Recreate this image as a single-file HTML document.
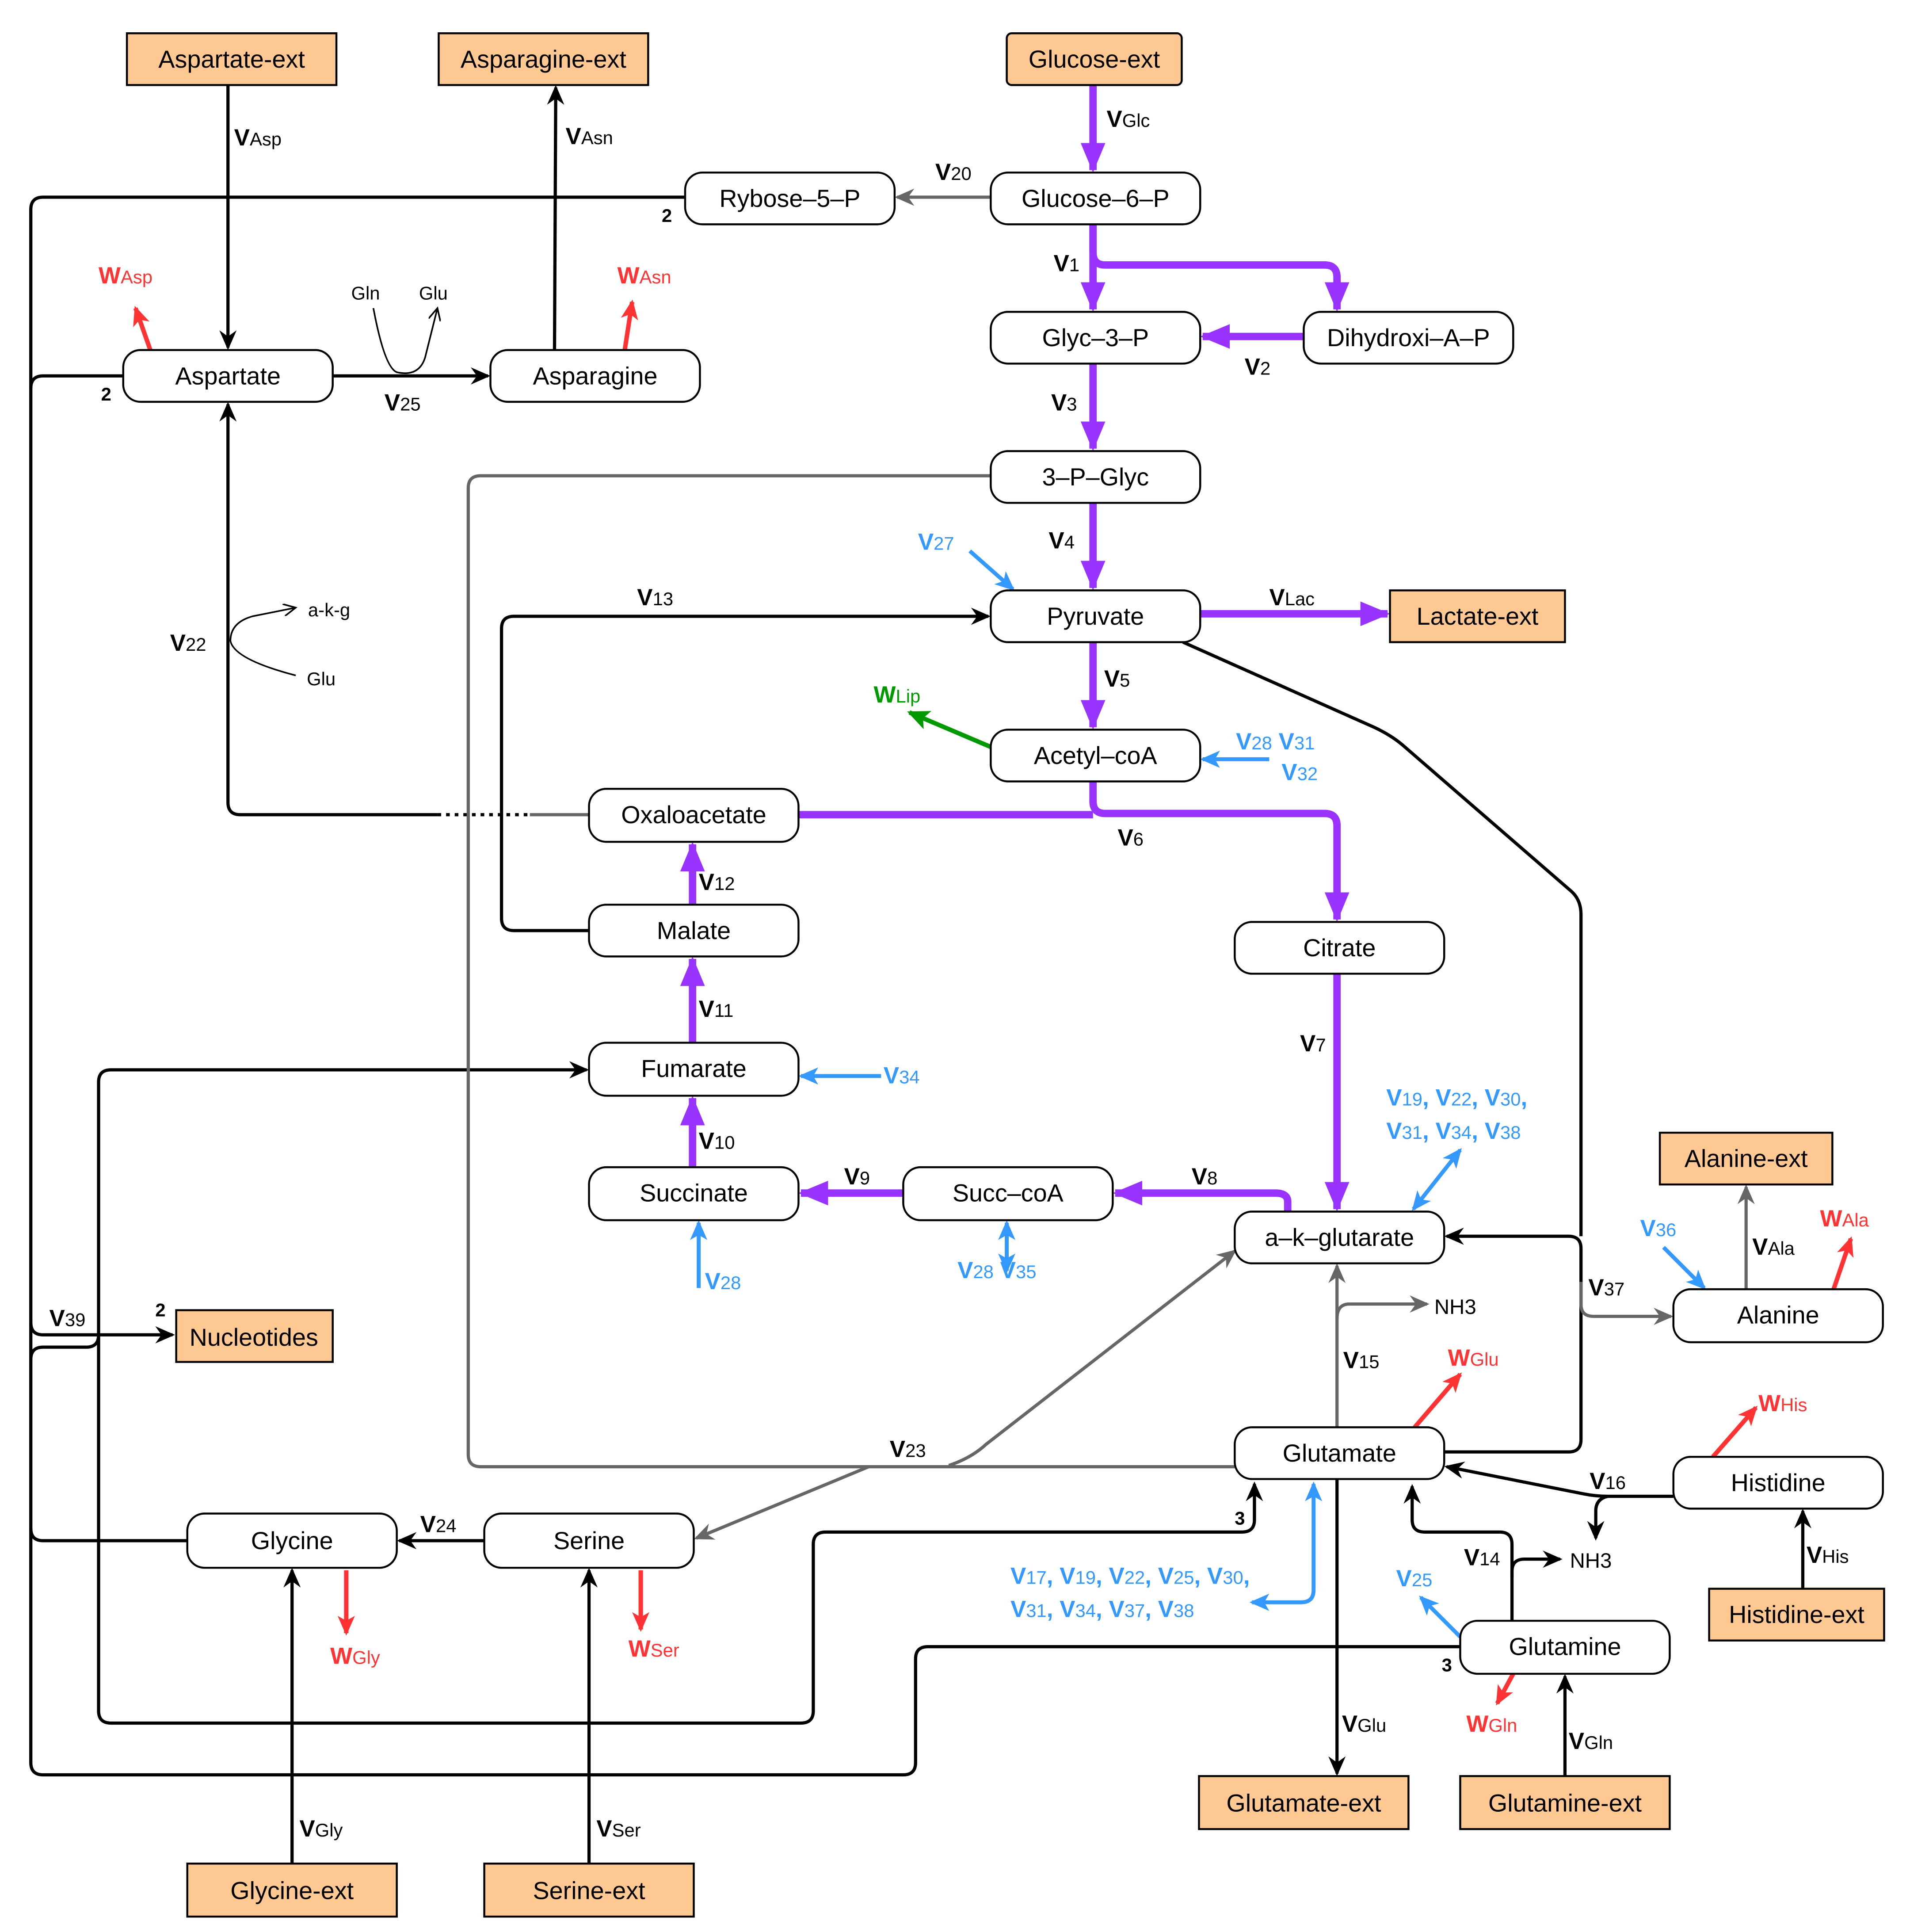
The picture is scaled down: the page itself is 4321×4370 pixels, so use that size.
<!DOCTYPE html>
<html><head><meta charset="utf-8"><style>
html,body{margin:0;padding:0;background:#fff}
svg{display:block}
text{font-family:"Liberation Sans",sans-serif}
.n{font-size:20px;text-anchor:middle;dominant-baseline:central}
.v{font-size:19px;font-weight:bold}
.s{font-size:15px;font-weight:normal}
.sm{font-size:15px}
</style></head><body>
<svg width="4321" height="4370" viewBox="0 0 1550 1567.5" preserveAspectRatio="none" xmlns="http://www.w3.org/2000/svg">
<defs>
<marker id="ak" markerUnits="userSpaceOnUse" markerWidth="18" markerHeight="16" refX="14" refY="8" orient="auto-start-reverse"><path d="M0,1 L16,8 L0,15 L5,8z" fill="#000"/></marker>
<marker id="ag" markerUnits="userSpaceOnUse" markerWidth="18" markerHeight="16" refX="14" refY="8" orient="auto-start-reverse"><path d="M0,1 L16,8 L0,15 L5,8z" fill="#666"/></marker>
<marker id="ap" markerUnits="userSpaceOnUse" markerWidth="26" markerHeight="24" refX="22" refY="12" orient="auto-start-reverse"><path d="M0,2 L24,12 L0,22z" fill="#9933ff"/></marker>
<marker id="ab" markerUnits="userSpaceOnUse" markerWidth="18" markerHeight="16" refX="14" refY="8" orient="auto-start-reverse"><path d="M0,1 L16,8 L0,15 L4,8z" fill="#3399ff"/></marker>
<marker id="ar" markerUnits="userSpaceOnUse" markerWidth="18" markerHeight="16" refX="14" refY="8" orient="auto-start-reverse"><path d="M0,1 L16,8 L0,15 L4,8z" fill="#ff3333"/></marker>
<marker id="agr" markerUnits="userSpaceOnUse" markerWidth="20" markerHeight="18" refX="16" refY="9" orient="auto-start-reverse"><path d="M0,1 L18,9 L0,17 L4,9z" fill="#009900"/></marker>
<marker id="as" markerUnits="userSpaceOnUse" markerWidth="12" markerHeight="10" refX="10" refY="5" orient="auto"><path d="M0,0 L10,5 L0,10" fill="none" stroke="#000" stroke-width="1.3"/></marker>
</defs>

<g fill="none" stroke-linejoin="round">
<g stroke="#000" stroke-width="2.6">
<path d="M556 160 H35 Q25 160 25 170 V1430 Q25 1440 35 1440 H733 Q743 1440 743 1430 V1346 Q743 1336 753 1336 H1185"/>
<path d="M100 305 H35 Q25 305 25 315"/>
<path d="M152 1250 H35 Q25 1250 25 1240"/>
<path d="M25 1073 Q25 1083 35 1083 H140" marker-end="url(#ak)"/>
<path d="M80 1083 Q80 1093 70 1093 H35 Q25 1093 25 1103"/>
<path d="M476 868 H90 Q80 868 80 878 V1388 Q80 1398 90 1398 H650 Q660 1398 660 1388 V1253 Q660 1243 670 1243 H1008 Q1018 1243 1018 1233 V1204" marker-start="url(#ak)" marker-end="url(#ak)"/>
<path d="M478 755 H417 Q407 755 407 745 V510 Q407 500 417 500 H802" marker-end="url(#ak)"/>
<path d="M355 661 H195 Q185 661 185 651 V328" marker-end="url(#ak)"/>
<path d="M355 661 H430" stroke-dasharray="3 4"/>
<path d="M185 69 V282" marker-end="url(#ak)"/>
<path d="M450 284 L451 71" marker-end="url(#ak)"/>
<path d="M270 305 H396" marker-end="url(#ak)"/>
<path d="M393 1250 H324" marker-end="url(#ak)"/>
<path d="M237 1512 V1274" marker-end="url(#ak)"/>
<path d="M478 1512 V1274" marker-end="url(#ak)"/>
<path d="M1085 1200 V1439" marker-end="url(#ak)"/>
<path d="M1270 1441 V1360" marker-end="url(#ak)"/>
<path d="M1463 1289 V1226" marker-end="url(#ak)"/>
<path d="M1358 1214 H1305 Q1295 1214 1285 1212 L1174 1190" marker-end="url(#ak)"/>
<path d="M1305 1214 Q1295 1216 1295 1226 V1248" marker-end="url(#ak)"/>
<path d="M1227 1315 V1253 Q1227 1243 1217 1243 H1156 Q1146 1243 1146 1233 V1206" marker-end="url(#ak)"/>
<path d="M1227 1280 V1275 Q1227 1265 1237 1265 H1266" marker-end="url(#ak)"/>
<path d="M1172 1178 H1273 Q1283 1178 1283 1168 V1013 Q1283 1003 1273 1003 H1174" marker-end="url(#ak)"/>
<path d="M960 521 L1115 590 Q1130 597 1140 606 L1275 723 Q1283 730 1283 742 V1003"/>
</g>
<g stroke="#000" stroke-width="1.3">
<path d="M303 250 Q312 298 322 302 Q340 306 345 290 L355 250" marker-end="url(#as)"/>
<path d="M240 548 Q190 535 187 520 Q187 505 205 500 L240 493" marker-end="url(#as)"/>
</g>
<g stroke="#666" stroke-width="2.6">
<path d="M804 160 H728" marker-end="url(#ag)"/>
<path d="M1002 1190 H390 Q380 1190 380 1180 V396 Q380 386 390 386 H804"/>
<path d="M478 661 H430"/>
<path d="M705 1190 L565 1248" marker-end="url(#ag)"/>
<path d="M770 1189 Q788 1183 800 1172 L1002 1015" marker-end="url(#ag)"/>
<path d="M1085 1158 V1027" marker-end="url(#ag)"/>
<path d="M1085 1070 Q1085 1058 1095 1058 H1158" marker-end="url(#ag)"/>
<path d="M1283 1040 V1058 Q1283 1068 1293 1068 H1356" marker-end="url(#ag)"/>
<path d="M1417 1046 V963" marker-end="url(#ag)"/>
</g>
<g stroke="#9933ff" stroke-width="6">
<path d="M887 69 V138" marker-end="url(#ap)"/>
<path d="M887 182 V251" marker-end="url(#ap)"/>
<path d="M887 182 V205 Q887 215 897 215 H1075 Q1085 215 1085 225 V251" marker-end="url(#ap)"/>
<path d="M1058 273 H976" marker-end="url(#ap)"/>
<path d="M887 295 V364" marker-end="url(#ap)"/>
<path d="M887 408 V477" marker-end="url(#ap)"/>
<path d="M974 498 H1126" marker-end="url(#ap)"/>
<path d="M887 521 V590" marker-end="url(#ap)"/>
<path d="M887 634 V650 Q887 660 897 660 H1075 Q1085 660 1085 670 V746" marker-end="url(#ap)"/>
<path d="M648 661 H887"/>
<path d="M1085 790 V981" marker-end="url(#ap)"/>
<path d="M1045 983 V975 Q1045 968 1035 968 H905" marker-end="url(#ap)"/>
<path d="M733 968 H650" marker-end="url(#ap)"/>
<path d="M562 947 V891" marker-end="url(#ap)"/>
<path d="M562 846 V778" marker-end="url(#ap)"/>
<path d="M562 734 V685" marker-end="url(#ap)"/>
</g>
<g stroke="#3399ff" stroke-width="3.2">
<path d="M787 447 L822 478" marker-end="url(#ab)"/>
<path d="M1030 616 H976" marker-end="url(#ab)"/>
<path d="M715 873 H650" marker-end="url(#ab)"/>
<path d="M567 1045 V992" marker-end="url(#ab)"/>
<path d="M817 1031 V992" marker-start="url(#ab)" marker-end="url(#ab)"/>
<path d="M1147 981 L1185 933" marker-start="url(#ab)" marker-end="url(#ab)"/>
<path d="M1350 1012 L1383 1045" marker-end="url(#ab)"/>
<path d="M1066 1204 V1290 Q1066 1300 1056 1300 H1016" marker-start="url(#ab)" marker-end="url(#ab)"/>
<path d="M1185 1328 L1153 1296" marker-end="url(#ab)"/>
</g>
<g stroke="#ff3333" stroke-width="3.6">
<path d="M122 284 L110 250" marker-end="url(#ar)"/>
<path d="M507 284 L513 245" marker-end="url(#ar)"/>
<path d="M1488 1046 L1502 1005" marker-end="url(#ar)"/>
<path d="M1148 1158 L1185 1115" marker-end="url(#ar)"/>
<path d="M1390 1182 L1425 1142" marker-end="url(#ar)"/>
<path d="M281 1274 V1325" marker-end="url(#ar)"/>
<path d="M520 1274 V1322" marker-end="url(#ar)"/>
<path d="M1228 1358 L1215 1382" marker-end="url(#ar)"/>
</g>
<path d="M804 606 L738 578" stroke="#009900" stroke-width="3.6" marker-end="url(#agr)"/>
</g>

<g fill="#fff" stroke="#000" stroke-width="1.6">
<rect x="556" y="140" width="170" height="42" rx="14"/>
<rect x="804" y="140" width="170" height="42" rx="14"/>
<rect x="804" y="253" width="170" height="42" rx="14"/>
<rect x="1058" y="253" width="170" height="42" rx="14"/>
<rect x="804" y="366" width="170" height="42" rx="14"/>
<rect x="804" y="479" width="170" height="42" rx="14"/>
<rect x="804" y="592" width="170" height="42" rx="14"/>
<rect x="478" y="640" width="170" height="43" rx="14"/>
<rect x="478" y="734" width="170" height="42" rx="14"/>
<rect x="1002" y="748" width="170" height="42" rx="14"/>
<rect x="478" y="846" width="170" height="43" rx="14"/>
<rect x="478" y="947" width="170" height="43" rx="14"/>
<rect x="733" y="947" width="170" height="43" rx="14"/>
<rect x="1002" y="983" width="170" height="42" rx="14"/>
<rect x="100" y="284" width="170" height="42" rx="14"/>
<rect x="398" y="284" width="170" height="42" rx="14"/>
<rect x="1358" y="1046" width="170" height="43" rx="14"/>
<rect x="1002" y="1158" width="170" height="42" rx="14"/>
<rect x="1358" y="1182" width="170" height="42" rx="14"/>
<rect x="152" y="1228" width="170" height="44" rx="14"/>
<rect x="393" y="1228" width="170" height="44" rx="14"/>
<rect x="1185" y="1315" width="170" height="43" rx="14"/>
</g>
<g fill="#fdc891" stroke="#000" stroke-width="1.6">
<rect x="103" y="27" width="170" height="42"/>
<rect x="356" y="27" width="170" height="42"/>
<rect x="817" y="27" width="142" height="42" rx="4"/>
<rect x="1128" y="479" width="142" height="42"/>
<rect x="1347" y="919" width="140" height="42"/>
<rect x="143" y="1063" width="127" height="42"/>
<rect x="1387" y="1289" width="142" height="42"/>
<rect x="973" y="1441" width="170" height="43"/>
<rect x="1185" y="1441" width="170" height="43"/>
<rect x="152" y="1512" width="170" height="43"/>
<rect x="393" y="1512" width="170" height="43"/>
</g>
<g class="n" fill="#000">
<text class="n" x="641" y="161">Rybose–5–P</text>
<text class="n" x="889" y="161">Glucose–6–P</text>
<text class="n" x="889" y="274">Glyc–3–P</text>
<text class="n" x="1143" y="274">Dihydroxi–A–P</text>
<text class="n" x="889" y="387">3–P–Glyc</text>
<text class="n" x="889" y="500">Pyruvate</text>
<text class="n" x="889" y="613">Acetyl–coA</text>
<text class="n" x="563" y="661">Oxaloacetate</text>
<text class="n" x="563" y="755">Malate</text>
<text class="n" x="1087" y="769">Citrate</text>
<text class="n" x="563" y="867">Fumarate</text>
<text class="n" x="563" y="968">Succinate</text>
<text class="n" x="818" y="968">Succ–coA</text>
<text class="n" x="1087" y="1004">a–k–glutarate</text>
<text class="n" x="185" y="305">Aspartate</text>
<text class="n" x="483" y="305">Asparagine</text>
<text class="n" x="1443" y="1067">Alanine</text>
<text class="n" x="1087" y="1179">Glutamate</text>
<text class="n" x="1443" y="1203">Histidine</text>
<text class="n" x="237" y="1250">Glycine</text>
<text class="n" x="478" y="1250">Serine</text>
<text class="n" x="1270" y="1336">Glutamine</text>
<text class="n" x="188" y="48">Aspartate-ext</text>
<text class="n" x="441" y="48">Asparagine-ext</text>
<text class="n" x="888" y="48">Glucose-ext</text>
<text class="n" x="1199" y="500">Lactate-ext</text>
<text class="n" x="1417" y="940">Alanine-ext</text>
<text class="n" x="206" y="1085">Nucleotides</text>
<text class="n" x="1458" y="1310">Histidine-ext</text>
<text class="n" x="1058" y="1463">Glutamate-ext</text>
<text class="n" x="1270" y="1463">Glutamine-ext</text>
<text class="n" x="237" y="1534">Glycine-ext</text>
<text class="n" x="478" y="1534">Serine-ext</text>
</g>

<g class="v" fill="#000">
<text x="190" y="118">V<tspan class="s">Asp</tspan></text>
<text x="459" y="117">V<tspan class="s">Asn</tspan></text>
<text x="898" y="103">V<tspan class="s">Glc</tspan></text>
<text x="759" y="146">V<tspan class="s">20</tspan></text>
<text x="855" y="220">V<tspan class="s">1</tspan></text>
<text x="1010" y="304">V<tspan class="s">2</tspan></text>
<text x="853" y="333">V<tspan class="s">3</tspan></text>
<text x="851" y="445">V<tspan class="s">4</tspan></text>
<text x="896" y="557">V<tspan class="s">5</tspan></text>
<text x="907" y="686">V<tspan class="s">6</tspan></text>
<text x="1055" y="853">V<tspan class="s">7</tspan></text>
<text x="967" y="961">V<tspan class="s">8</tspan></text>
<text x="685" y="961">V<tspan class="s">9</tspan></text>
<text x="567" y="932">V<tspan class="s">10</tspan></text>
<text x="567" y="825">V<tspan class="s">11</tspan></text>
<text x="567" y="722">V<tspan class="s">12</tspan></text>
<text x="517" y="491">V<tspan class="s">13</tspan></text>
<text x="1030" y="491">V<tspan class="s">Lac</tspan></text>
<text x="138" y="528">V<tspan class="s">22</tspan></text>
<text x="312" y="333">V<tspan class="s">25</tspan></text>
<text x="1090" y="1110">V<tspan class="s">15</tspan></text>
<text x="722" y="1182">V<tspan class="s">23</tspan></text>
<text x="341" y="1243">V<tspan class="s">24</tspan></text>
<text x="1290" y="1208">V<tspan class="s">16</tspan></text>
<text x="1188" y="1270">V<tspan class="s">14</tspan></text>
<text x="1289" y="1051">V<tspan class="s">37</tspan></text>
<text x="1422" y="1018">V<tspan class="s">Ala</tspan></text>
<text x="1466" y="1268">V<tspan class="s">His</tspan></text>
<text x="1089" y="1405">V<tspan class="s">Glu</tspan></text>
<text x="1273" y="1419">V<tspan class="s">Gln</tspan></text>
<text x="243" y="1490">V<tspan class="s">Gly</tspan></text>
<text x="484" y="1490">V<tspan class="s">Ser</tspan></text>
<text x="40" y="1076">V<tspan class="s">39</tspan></text>
<text x="537" y="180" class="sm" style="font-weight:bold">2</text>
<text x="82" y="325" class="sm" style="font-weight:bold">2</text>
<text x="126" y="1068" class="sm" style="font-weight:bold">2</text>
<text x="1002" y="1237" class="sm" style="font-weight:bold">3</text>
<text x="1170" y="1356" class="sm" style="font-weight:bold">3</text>
</g>
<g fill="#000" class="sm">
<text x="285" y="243">Gln</text>
<text x="340" y="243">Glu</text>
<text x="250" y="500">a-k-g</text>
<text x="249" y="556">Glu</text>
</g>
<g fill="#000" style="font-size:17px">
<text x="1164" y="1066">NH3</text>
<text x="1274" y="1272">NH3</text>
</g>
<g class="v" fill="#3399ff">
<text x="745" y="446">V<tspan class="s">27</tspan></text>
<text x="1003" y="608">V<tspan class="s">28</tspan> V<tspan class="s">31</tspan></text>
<text x="1040" y="633">V<tspan class="s">32</tspan></text>
<text x="717" y="879">V<tspan class="s">34</tspan></text>
<text x="572" y="1046">V<tspan class="s">28</tspan></text>
<text x="777" y="1037">V<tspan class="s">28</tspan> V<tspan class="s">35</tspan></text>
<text x="1125" y="897">V<tspan class="s">19</tspan>, V<tspan class="s">22</tspan>, V<tspan class="s">30</tspan>,</text>
<text x="1125" y="924">V<tspan class="s">31</tspan>, V<tspan class="s">34</tspan>,  V<tspan class="s">38</tspan></text>
<text x="1331" y="1003">V<tspan class="s">36</tspan></text>
<text x="1133" y="1287">V<tspan class="s">25</tspan></text>
<text x="820" y="1285">V<tspan class="s">17</tspan>, V<tspan class="s">19</tspan>, V<tspan class="s">22</tspan>, V<tspan class="s">25</tspan>, V<tspan class="s">30</tspan>,</text>
<text x="820" y="1312">V<tspan class="s">31</tspan>, V<tspan class="s">34</tspan>, V<tspan class="s">37</tspan>, V<tspan class="s">38</tspan></text>
</g>
<g class="v" fill="#ff3333">
<text x="80" y="230">W<tspan class="s">Asp</tspan></text>
<text x="501" y="230">W<tspan class="s">Asn</tspan></text>
<text x="1477" y="995">W<tspan class="s">Ala</tspan></text>
<text x="1175" y="1108">W<tspan class="s">Glu</tspan></text>
<text x="1427" y="1145">W<tspan class="s">His</tspan></text>
<text x="268" y="1350">W<tspan class="s">Gly</tspan></text>
<text x="510" y="1344">W<tspan class="s">Ser</tspan></text>
<text x="1190" y="1405">W<tspan class="s">Gln</tspan></text>
</g>
<text class="v" x="709" y="570" fill="#009900">W<tspan class="s">Lip</tspan></text>
</svg>
</body></html>
